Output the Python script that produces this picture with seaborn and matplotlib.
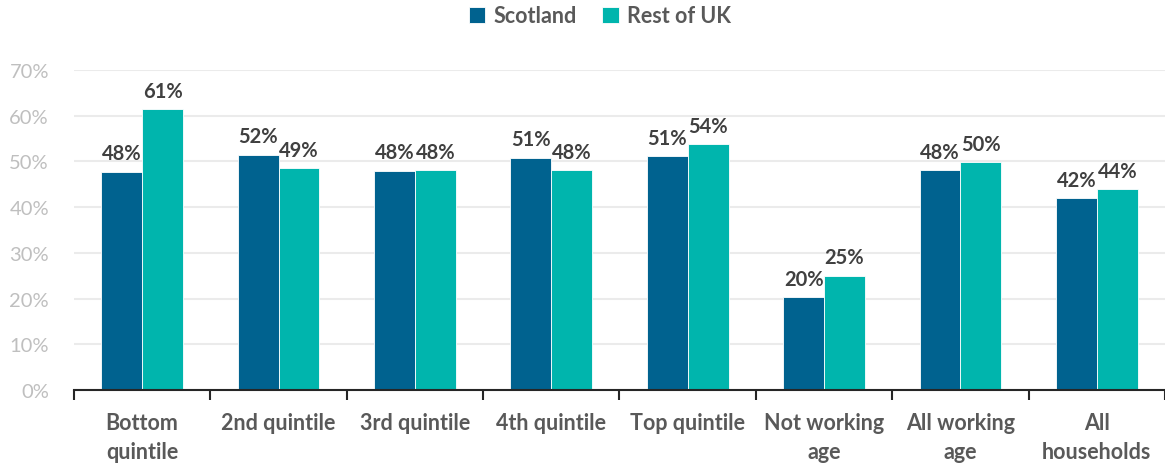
import matplotlib
matplotlib.use("Agg")
import matplotlib.pyplot as plt
import seaborn as sns
import pandas as pd
import numpy as np

categories = ["Bottom\nquintile", "2nd quintile", "3rd quintile", "4th quintile",
              "Top quintile", "Not working\nage", "All working\nage", "All\nhouseholds"]
scotland = [47.8, 51.5, 48.0, 50.8, 51.2, 20.3, 48.1, 42.0]
rest_uk = [61.4, 48.6, 48.1, 48.1, 53.8, 25.0, 49.9, 44.0]
scot_labels = ["48%", "52%", "48%", "51%", "51%", "20%", "48%", "42%"]
rest_labels = ["61%", "49%", "48%", "48%", "54%", "25%", "50%", "44%"]
series = ["Scotland", "Rest of UK"]
colors = ["#00628F", "#00B5AD"]

df = pd.DataFrame({
    "category": categories * 2,
    "value": scotland + rest_uk,
    "series": [series[0]] * len(categories) + [series[1]] * len(categories),
})

sns.set_theme(style="white")
plt.rcParams["font.family"] = ["Lato", "DejaVu Sans"]

fig = plt.figure(figsize=(11.65, 4.64), dpi=100)
ax = fig.add_axes([0.0635, 0.157, 0.9365, 0.69])

sns.barplot(data=df, x="category", y="value", hue="series", order=categories,
            hue_order=series, palette=colors, width=0.6, saturation=1,
            edgecolor="white", linewidth=0.6, ax=ax, legend=True)

ax.set_ylim(0, 70)
ax.set_xlim(-0.5, len(categories) - 0.5)
ax.set_yticks(np.arange(0, 71, 10))
ax.set_yticklabels([f"{v}%" for v in range(0, 71, 10)], color="#BFBFBF", fontsize=14.5)
ax.yaxis.grid(True, color="#EBEBEB", linewidth=1.5)
ax.set_axisbelow(True)
ax.set_xlabel("")
ax.set_ylabel("")
ax.set_xticks(range(len(categories)))
ax.set_xticklabels(categories, fontsize=15.5, fontweight="bold", color="#595959", linespacing=1.45)
ax.tick_params(axis="x", which="major", length=0, pad=16)
ax.tick_params(axis="y", length=0, pad=18)
ax.set_xticks(np.arange(-0.5, len(categories), 1), minor=True)
ax.tick_params(axis="x", which="minor", length=7, width=1.5, color="#262626", direction="out", bottom=True)
for s in ["top", "right", "left"]:
    ax.spines[s].set_visible(False)
ax.spines["bottom"].set_color("#262626")
ax.spines["bottom"].set_linewidth(1.5)

for cont, labs in zip(ax.containers, [scot_labels, rest_labels]):
    ax.bar_label(cont, labels=labs, padding=6, fontsize=14.5, fontweight="bold", color="#404040")

handles, labels = ax.get_legend_handles_labels()
ax.legend(handles, labels, loc="upper center", bbox_to_anchor=(0.482, 1.262), ncol=2,
          frameon=False, prop={"weight": "bold", "size": 15.5},
          handlelength=0.75, handleheight=0.75, handletextpad=0.4, columnspacing=1.2,
          labelcolor="#595959")

fig.savefig("out.png", dpi=100)
